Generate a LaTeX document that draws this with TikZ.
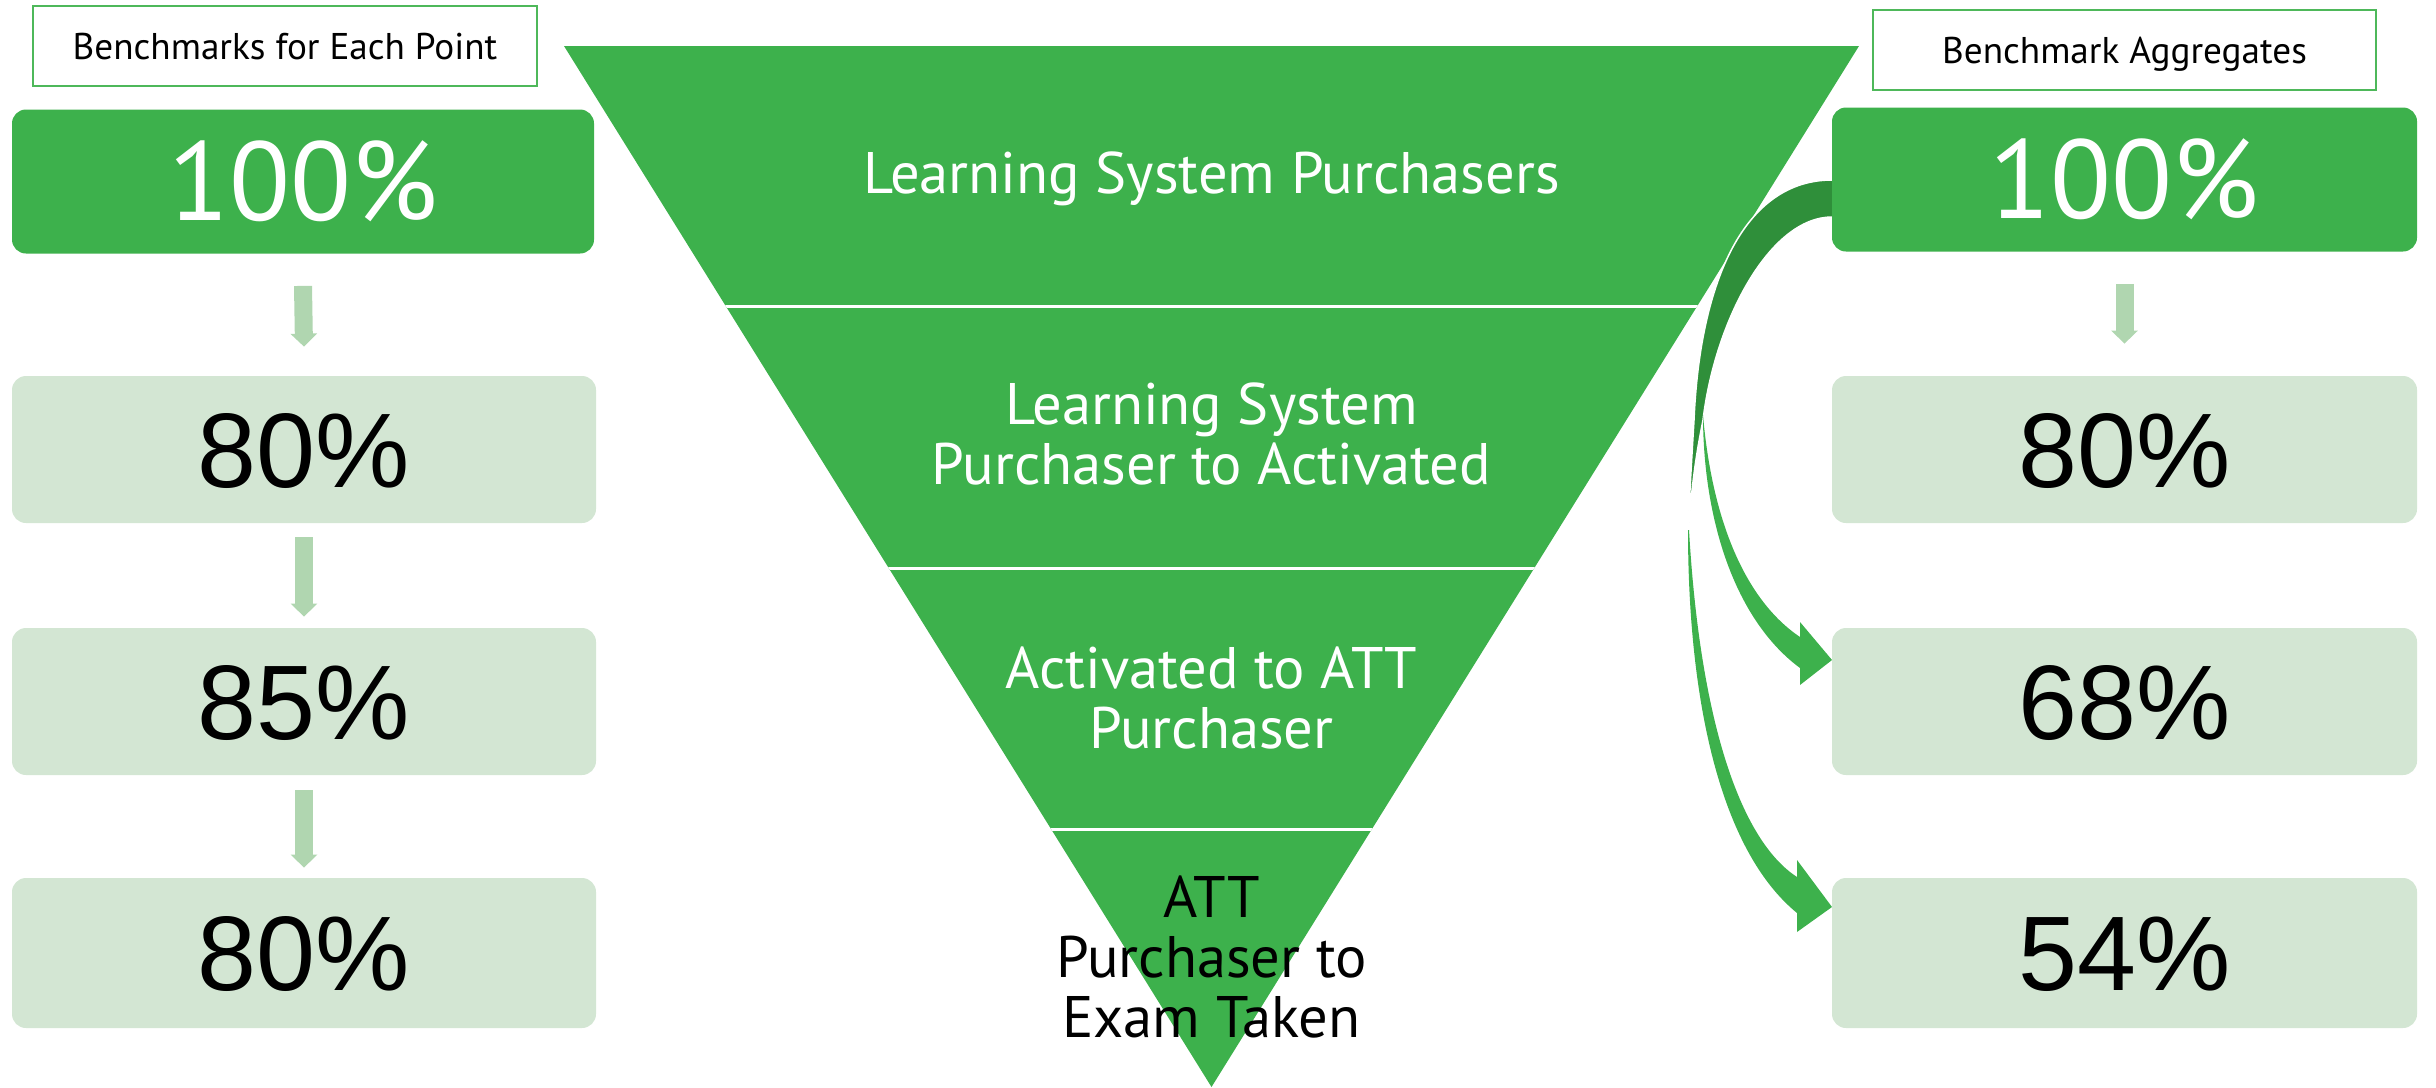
\documentclass[tikz,border=0pt]{standalone}
\usepackage{fontspec}
\setmainfont{Liberation Sans}
\newfontfamily\ptsans{PT Sans}
\usetikzlibrary{arrows.meta,calc}
\definecolor{fgreen}{RGB}{61,177,76}
\definecolor{dgreen}{RGB}{47,143,58}
\definecolor{lbox}{RGB}{211,230,211}
\definecolor{larrow}{RGB}{176,214,176}
\definecolor{hgreen}{RGB}{78,184,90}
\begin{document}
\begin{tikzpicture}[x=0.5pt,y=-0.5pt,
  hdr/.style={draw=hgreen, line width=1pt, fill=white, inner sep=0pt, minimum width=252pt, minimum height=40pt, font=\ptsans\fontsize{18.6}{22}\selectfont, text height=13pt, text depth=0pt},
  topbox/.style={fill=fgreen, rounded corners=7pt, inner sep=0pt, minimum width=291pt, minimum height=72pt, text=white, font=\ptsans\fontsize{56}{60}\selectfont, text height=39.2pt, text depth=0pt},
  pbox/.style={fill=lbox, rounded corners=7pt, inner sep=0pt, minimum width=292pt, minimum height=73.5pt, text=black, font=\fontsize{53}{60}\selectfont, text height=37.9pt, text depth=0pt},
  ftext/.style={font=\ptsans\fontsize{29.3}{30}\selectfont, align=center, text=white, inner sep=0pt, anchor=base},
  darr/.style={draw=larrow, line width=9pt, -{Triangle[width=13pt,length=6.5pt,fill=larrow]}}
]
\useasboundingbox (0,0) rectangle (2436,1087);
% funnel
\fill[fgreen] (564,46) -- (1859,46) -- (1211.5,1087) -- cycle;
\begin{scope}
  \clip (564,46) -- (1859,46) -- (1211.5,1087) -- cycle;
  \draw[white, line width=1.5pt] (500,306) -- (1950,306);
  \draw[white, line width=1.5pt] (500,568) -- (1950,568);
  \draw[white, line width=1.5pt] (500,829) -- (1950,829);
\end{scope}
\node[ftext] (f1) at (1211.5,193) {Learning System Purchasers};
\node[ftext] (f2) at (1211.5,484) {Learning System\\Purchaser to Activated};
\node[ftext] (f3) at (1211.5,748) {Activated to ATT\\Purchaser};
\node[ftext, text=black] (f4) at (1211.5,1037) {ATT\\Purchaser to\\Exam Taken};
% curved arrows
\fill[dgreen, draw=white, line width=0.75pt] (1845,180) -- (1832,180) .. controls (1745,180) and (1700,280) .. (1694,420) .. controls (1691,470) and (1689,505) .. (1688,535) .. controls (1692,480) and (1697,450) .. (1703,420) .. controls (1715,320) and (1770,217) .. (1832,217) -- (1845,217) -- cycle;
\fill[fgreen] (1703,415) .. controls (1703,520) and (1735,620) .. (1800,668) -- (1800,685) -- (1832,660) -- (1800,622) -- (1800,637) .. controls (1745,600) and (1712,520) .. (1703,415) -- cycle;
\fill[fgreen] (1688,530) .. controls (1688,700) and (1720,850) .. (1797,913) -- (1797,932) -- (1832,907) -- (1797,860) -- (1797,877) .. controls (1740,840) and (1700,720) .. (1689,530) -- cycle;
% headers
\node[hdr] (hl) at (285,46) {Benchmarks for Each Point};
\node[hdr, minimum width=251.5pt] (hr) at (2124.5,50) {Benchmark Aggregates};
% boxes
\node[topbox] (L1) at (303,181.5) {100\%};
\node[pbox] (L2) at (304,449.5) {80\%};
\node[pbox] (L3) at (304,701.5) {85\%};
\node[pbox, minimum height=75pt] (L4) at (304,953) {80\%};
\node[topbox, minimum width=292.5pt] (R1) at (2124.5,179.5) {100\%};
\node[pbox, minimum width=292.5pt] (R2) at (2124.5,449.5) {80\%};
\node[pbox, minimum width=292.5pt] (R3) at (2124.5,701.5) {68\%};
\node[pbox, minimum width=292.5pt, minimum height=75pt] (R4) at (2124.5,953) {54\%};
% small arrows
\draw[darr] ($(L1.south)+(0,32)$) -- ($(L2.north)+(0,-29)$);
\draw[darr] ($(L2.south)+(0,14)$) -- ($(L3.north)+(0,-11)$);
\draw[darr] ($(L3.south)+(0,15)$) -- ($(L4.north)+(0,-10)$);
\draw[darr] ($(R1.south)+(0,32)$) -- ($(R2.north)+(0,-32)$);
\end{tikzpicture}
\end{document}
